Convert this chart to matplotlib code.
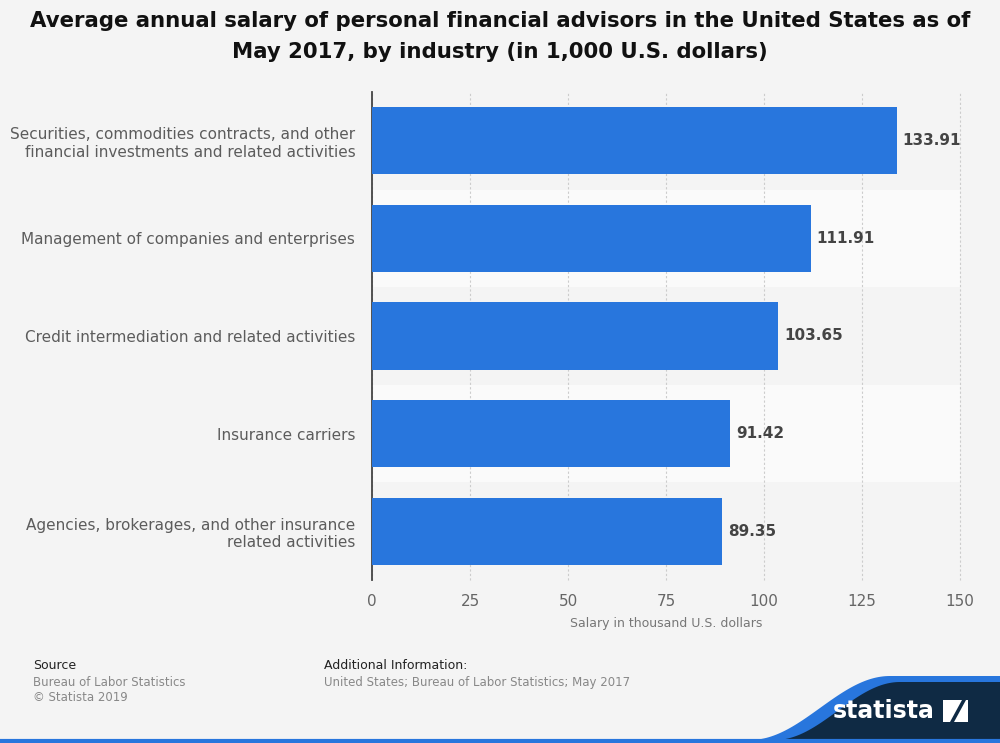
import numpy as np
import matplotlib.pyplot as plt
from matplotlib.patches import Polygon

categories = [
    'Securities, commodities contracts, and other\nfinancial investments and related activities',
    'Management of companies and enterprises',
    'Credit intermediation and related activities',
    'Insurance carriers',
    'Agencies, brokerages, and other insurance\nrelated activities',
]
values = [133.91, 111.91, 103.65, 91.42, 89.35]
xticks = [0, 25, 50, 75, 100, 125, 150]

bg = '#f4f4f4'
bar_color = '#2876dd'

fig = plt.figure(figsize=(10, 7.43), dpi=100, facecolor=bg)
ax = fig.add_axes([0.372, 0.2194, 0.588, 0.6568], facecolor=bg)

y = np.arange(len(categories))
for i in y:
    if i % 2 == 1:
        ax.axhspan(i - 0.5, i + 0.5, color='#fafafa', zorder=0, lw=0)

ax.barh(y, values, height=0.69, color=bar_color, zorder=3)
for yi, v in zip(y, values):
    ax.text(v + 1.5, yi, f'{v:.2f}', va='center', ha='left', fontsize=11,
            fontweight='bold', color='#444444', zorder=4)

ax.set_xlim(0, 150)
ax.set_ylim(len(categories) - 0.5, -0.5)
ax.set_xticks(xticks)
ax.set_xticklabels([str(t) for t in xticks])
ax.set_yticks(y)
ax.set_yticklabels(categories, fontsize=11, color='#5c5c5c', linespacing=1.2)
ax.tick_params(axis='x', labelsize=11, labelcolor='#666666', length=0, pad=10)
ax.tick_params(axis='y', length=0, pad=12)
for lbl in ax.get_yticklabels():
    lbl.set_horizontalalignment('right')
ax.xaxis.grid(True, color='#cccccc', linestyle=(0, (2, 2)), lw=0.8, zorder=1)
for gl in ax.get_xgridlines():
    gl.set_clip_on(False)
ax.set_axisbelow(True)
for s in ['top', 'right', 'bottom']:
    ax.spines[s].set_visible(False)
ax.spines['left'].set_color('#444444')
ax.spines['left'].set_linewidth(1.3)
ax.set_xlabel('Salary in thousand U.S. dollars', fontsize=9, color='#777777', labelpad=6)

fig.text(0.5, 0.985, 'Average annual salary of personal financial advisors in the United States as of\nMay 2017, by industry (in 1,000 U.S. dollars)',
         ha='center', va='top', fontsize=15.3, fontweight='bold', color='#111111', linespacing=1.7)

fig.text(0.033, 0.104, 'Source', fontsize=9, color='#222222', va='center')
fig.text(0.033, 0.082, 'Bureau of Labor Statistics', fontsize=8.5, color='#888888', va='center')
fig.text(0.033, 0.061, '\u00a9 Statista 2019', fontsize=8.5, color='#888888', va='center')
fig.text(0.324, 0.104, 'Additional Information:', fontsize=9, color='#222222', va='center')
fig.text(0.324, 0.082, 'United States; Bureau of Labor Statistics; May 2017', fontsize=8.5, color='#888888', va='center')

# footer logo band
fa = fig.add_axes([0, 0, 1, 1], facecolor='none', zorder=-1)
fa.set_xlim(0, 1000)
fa.set_ylim(743, 0)
fa.axis('off')
t = np.linspace(0, 1, 60)
cx = 750 + 140 * t
cy = 740 - 64 * (0.5 - 0.5 * np.cos(np.pi * t))
blue_pts = list(zip(cx, cy)) + [(1000, 676), (1000, 743), (750, 743)]
fa.add_patch(Polygon(blue_pts, closed=True, color=bar_color, lw=0))
cx2 = 775 + 125 * t
cy2 = 740 - 58 * (0.5 - 0.5 * np.cos(np.pi * t))
navy_pts = list(zip(cx2, cy2)) + [(1000, 682), (1000, 743), (775, 743)]
fa.add_patch(Polygon(navy_pts, closed=True, color='#0f2a44', lw=0))
fa.plot([0, 1000], [741, 741], color=bar_color, lw=3)
fa.text(935, 711, 'statista', color='white', fontsize=17, fontweight='bold', ha='right', va='center')
fa.add_patch(Polygon([(943, 700), (968, 700), (968, 722), (943, 722)], closed=True, color='white', lw=0))
fa.add_patch(Polygon([(950, 722), (962, 700), (966, 700), (954, 722)], closed=True, color='#0f2a44', lw=0))

fig.savefig('out.png', dpi=100, facecolor=bg)
